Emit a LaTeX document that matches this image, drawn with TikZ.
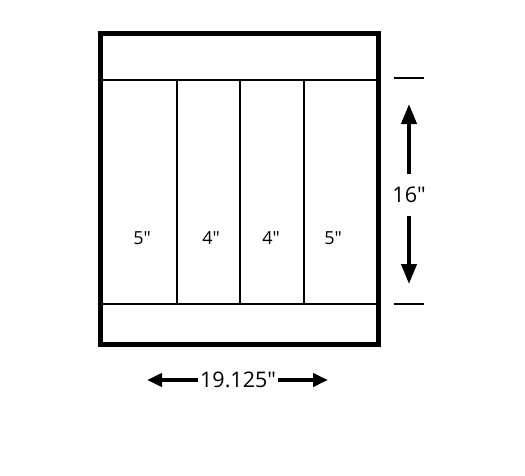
\documentclass[tikz,border=0pt]{standalone}
\usepackage{fontspec}
\setmainfont{Open Sans}
\usetikzlibrary{arrows.meta}

\begin{document}
\begin{tikzpicture}[x=1pt, y=-1pt,
    frame/.style={line width=5pt},
    rail/.style={line width=2.5pt},
    divider/.style={line width=2pt},
    tick/.style={line width=2.5pt},
    sizelabel/.style={font=\fontsize{18}{18}\selectfont, inner sep=0pt},
    dimlabel/.style={font=\fontsize{21.5}{21.5}\selectfont, inner sep=1.5pt},
    dimarrow/.style={line width=4.5pt, -{Triangle[length=15pt,width=13pt]}}]

 \useasboundingbox (0,0) rectangle (525,475);

 % drawer outline
 \draw[frame] (100,33) rectangle (378,344);

 % top and bottom rails
 \foreach \y in {80, 304}
   \draw[rail] (100,\y) -- (378,\y);

 % dividers
 \foreach \x in {177, 240, 304}
   \draw[divider] (\x,80) -- (\x,304);

 % compartment widths
 \foreach \x/\name/\w in {142/a/5, 211/b/4, 271/c/4, 333/d/5}
   \node[sizelabel] (w\name) at (\x,238) {\w″};

 % height dimension
 \draw[tick] (394,78) -- (424,78);
 \draw[tick] (394,304) -- (424,304);
 \node[dimlabel] (hlabel) at (409,195) {16″};
 \coordinate (htop) at (409,104);
 \coordinate (hbot) at (409,284);
 \draw[dimarrow, line width=4pt, -{Triangle[length=20pt,width=15pt]}, shorten <=11pt] (hlabel.north) -- (htop);
 \draw[dimarrow, line width=4pt, -{Triangle[length=20pt,width=15pt]}, shorten <=11pt] (hlabel.south) -- (hbot);

 % width dimension
 \node[dimlabel] (wlabel) at (238,380) {19.125″};
 \coordinate (wleft) at (147,380);
 \coordinate (wright) at (328,380);
 \draw[dimarrow] (wlabel.west) -- (wleft);
 \draw[dimarrow] (wlabel.east) -- (wright);

\end{tikzpicture}
\end{document}
